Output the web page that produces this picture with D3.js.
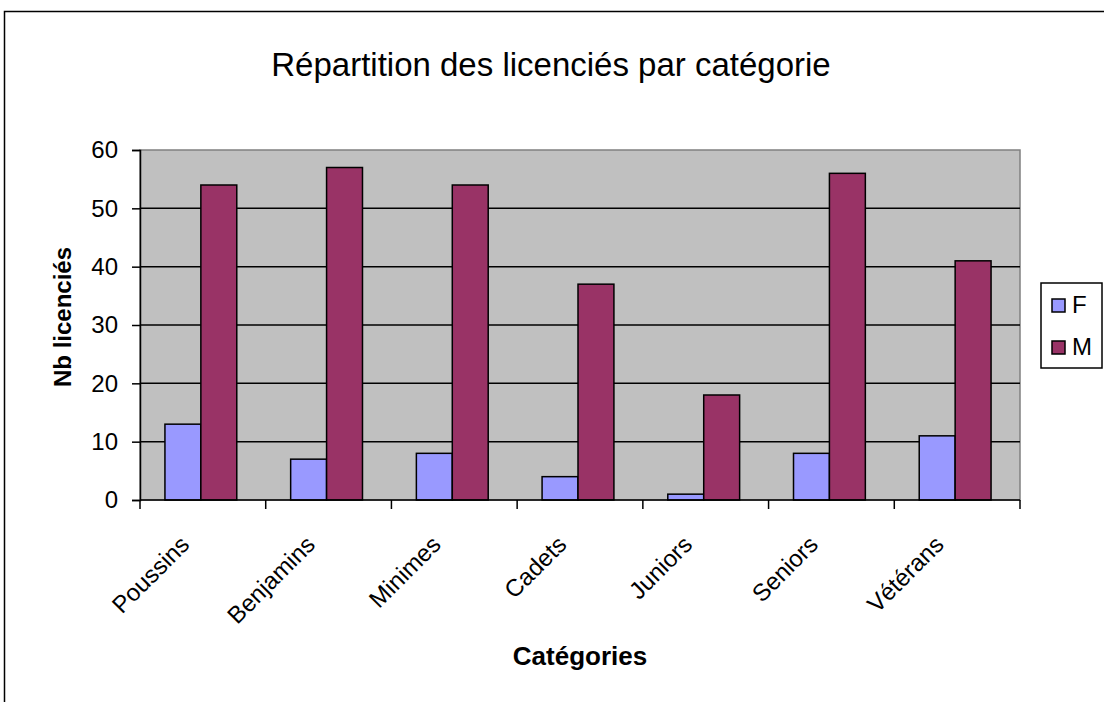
<!DOCTYPE html>
<html lang="fr">
    <head>
        <meta charset="UTF-8" />
        <title>Répartition des licenciés par catégorie</title>
        <script src="https://d3js.org/d3.v7.min.js"></script>
        <style>
            body {
                margin: 0;
                background: #fff;
                font-family: "Liberation Sans", Arial, sans-serif;
            }
            svg text {
                fill: #000;
            }
        </style>
    </head>
    <body>
        <svg width="1104" height="702"></svg>

        <script>
            const categories = ["Poussins", "Benjamins", "Minimes", "Cadets", "Juniors", "Seniors", "Vétérans"];
            const series = ["F", "M"];
            const valuesF = [13, 7, 8, 4, 1, 8, 11];
            const valuesM = [54, 57, 54, 37, 18, 56, 41];
            const yTicks = [0, 10, 20, 30, 40, 50, 60];
            const colors = { F: "#9999FF", M: "#993366" };

            const rows = categories.map((c, i) => ({
                cat: c,
                F: valuesF[i],
                M: valuesM[i],
            }));

            const svg = d3.select("svg");

            // outer chart frame (runs past the window on right / bottom)
            svg.append("rect")
                .attr("x", 4.5)
                .attr("y", 11.5)
                .attr("width", 1200)
                .attr("height", 800)
                .attr("fill", "none")
                .attr("stroke", "#000")
                .attr("stroke-width", 1.5);

            const plot = { left: 140, right: 1020, top: 150, bottom: 500 };

            const x0 = d3
                .scaleBand()
                .domain(categories)
                .range([plot.left, plot.right])
                .padding(0);

            const x1 = d3
                .scaleBand()
                .domain(series)
                .range([0, x0.bandwidth()])
                .paddingInner(0)
                .paddingOuter(0.75);

            const y = d3.scaleLinear().domain([0, 60]).range([plot.bottom, plot.top]);

            // plot background
            svg.append("rect")
                .attr("x", plot.left)
                .attr("y", plot.top)
                .attr("width", plot.right - plot.left)
                .attr("height", plot.bottom - plot.top)
                .attr("fill", "#C0C0C0")
                .attr("stroke", "#808080")
                .attr("stroke-width", 1.5);

            // gridlines
            svg.append("g")
                .selectAll("line")
                .data(yTicks.filter((t) => t > 0 && t < 60))
                .enter()
                .append("line")
                .attr("x1", plot.left)
                .attr("x2", plot.right)
                .attr("y1", (d) => y(d))
                .attr("y2", (d) => y(d))
                .attr("stroke", "#000")
                .attr("stroke-width", 1.5);

            // bars
            svg.append("g")
                .attr("transform", "translate(-2,0)")
                .selectAll("g")
                .data(rows)
                .enter()
                .append("g")
                .attr("transform", (d) => `translate(${x0(d.cat)},0)`)
                .selectAll("rect")
                .data((d) => series.map((s) => ({ key: s, value: d[s] })))
                .enter()
                .append("rect")
                .attr("x", (d) => x1(d.key))
                .attr("y", (d) => y(d.value))
                .attr("width", x1.bandwidth())
                .attr("height", (d) => y(0) - y(d.value))
                .attr("fill", (d) => colors[d.key])
                .attr("stroke", "#000")
                .attr("stroke-width", 1.5);

            // y axis
            const yAxis = svg
                .append("g")
                .attr("transform", `translate(${plot.left},0)`)
                .call(d3.axisLeft(y).tickValues(yTicks).tickSize(8).tickPadding(14));
            yAxis.select(".domain").attr("stroke", "#000").attr("stroke-width", 1.5);
            yAxis.selectAll(".tick line").attr("stroke", "#000").attr("stroke-width", 1.5);
            yAxis.selectAll(".tick text")
                .attr("font-family", "Liberation Sans, Arial, sans-serif")
                .attr("font-size", 24)
                .attr("fill", "#000");

            // x axis: ticks on category boundaries
            const xAxis = svg.append("g");
            xAxis.append("line")
                .attr("x1", plot.left)
                .attr("x2", plot.right)
                .attr("y1", plot.bottom)
                .attr("y2", plot.bottom)
                .attr("stroke", "#000")
                .attr("stroke-width", 1.5);
            const bounds = categories.map((c) => x0(c)).concat([plot.right]);
            xAxis.selectAll(".xtick")
                .data(bounds)
                .enter()
                .append("line")
                .attr("x1", (d) => d)
                .attr("x2", (d) => d)
                .attr("y1", plot.bottom)
                .attr("y2", plot.bottom + 9)
                .attr("stroke", "#000")
                .attr("stroke-width", 1.5);

            xAxis.selectAll(".xlabel")
                .data(categories)
                .enter()
                .append("text")
                .attr("transform", (d) => `translate(${x0(d) + x0.bandwidth() / 2 - 12},${plot.bottom + 46}) rotate(-45)`)
                .attr("text-anchor", "end")
                .attr("font-size", 24)
                .text((d) => d);

            // titles
            svg.append("text")
                .attr("x", 551)
                .attr("y", 76)
                .attr("text-anchor", "middle")
                .attr("font-size", 33)
                .text("Répartition des licenciés par catégorie");

            svg.append("text")
                .attr("x", (plot.left + plot.right) / 2)
                .attr("y", 665)
                .attr("text-anchor", "middle")
                .attr("font-size", 26)
                .attr("font-weight", "bold")
                .text("Catégories");

            svg.append("text")
                .attr("transform", "translate(71,317) rotate(-90)")
                .attr("text-anchor", "middle")
                .attr("font-size", 24)
                .attr("font-weight", "bold")
                .text("Nb licenciés");

            // legend
            const legend = svg.append("g").attr("transform", "translate(1041,283)");
            legend.append("rect")
                .attr("width", 61)
                .attr("height", 85)
                .attr("fill", "#fff")
                .attr("stroke", "#000")
                .attr("stroke-width", 1.5);
            const item = legend
                .selectAll(".item")
                .data(series)
                .enter()
                .append("g")
                .attr("transform", (d, i) => `translate(11,${16 + i * 42})`);
            item.append("rect")
                .attr("width", 13)
                .attr("height", 13)
                .attr("fill", (d) => colors[d])
                .attr("stroke", "#000")
                .attr("stroke-width", 1.5);
            item.append("text")
                .attr("x", 20)
                .attr("y", 14)
                .attr("font-size", 24)
                .text((d) => d);
        </script>
    </body>
</html>
